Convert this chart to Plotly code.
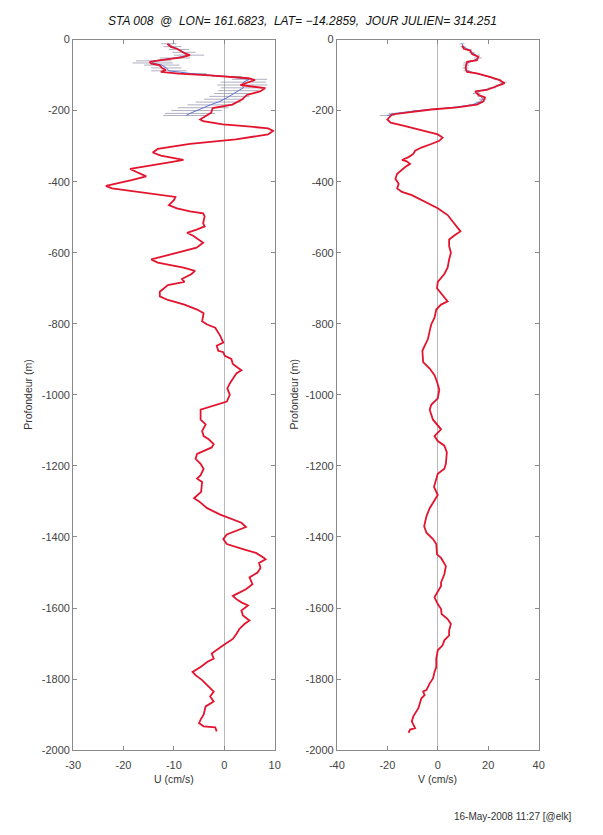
import plotly.graph_objects as go

W, H = 603, 835

# ---- U profile (cm/s) vs depth (m) ----
u_depth = [-12, -21, -26, -40, -44, -50, -58, -63, -68, -72, -81, -86, -91, -96, -101, -109, -114, -122, -128,
           -137, -146, -156, -169, -183, -193, -206, -225, -230, -239, -243, -250, -257, -267, -281, -294,
           -308, -318, -327, -336, -339, -345, -355, -364, -373, -385, -396, -406, -412, -419, -429, -438,
           -443, -452, -466, -475, -484, -489, -498, -517, -526, -535, -544, -553, -572, -586, -600, -619,
           -628, -642, -651, -660, -674, -682, -691, -710, -723, -733, -746, -760, -770, -793, -802, -811,
           -834, -853, -862, -876, -880, -890, -899, -913, -924, -931, -940, -954, -968, -982, -1000, -1019,
           -1033, -1042, -1070, -1083, -1102, -1116, -1125, -1139, -1148, -1157, -1166, -1180, -1194, -1208,
           -1226, -1236, -1245, -1273, -1291, -1300, -1319, -1337, -1351, -1360, -1372, -1383, -1393, -1406,
           -1420, -1434, -1445, -1459, -1463, -1473, -1487, -1500, -1514, -1533, -1547, -1561, -1566, -1575,
           -1584, -1593, -1607, -1621, -1635, -1645, -1659, -1673, -1687, -1705, -1719, -1728, -1742, -1752,
           -1766, -1780, -1789, -1803, -1817, -1835, -1849, -1863, -1877, -1900, -1914, -1924, -1933, -1936,
           -1947]
u_vals = [-11.3, -10.6, -9.4, -7.7, -6.8, -8.5, -12.5, -14.8, -14.5, -12.9, -12.3, -11.6, -12.6, -9.0, -3.0,
          4.8, 6.1, 4.6, 3.2, 8.1, 7.1, 4.5, 3.5, 1.6, -2.3, -2.6, -4.8, -4.2, -0.3, 3.5, 8.7, 9.7, 8.7, 2.3,
          -6.8, -13.2, -14.2, -12.6, -9.4, -8.1, -10.6, -15.2, -18.7, -17.4, -15.5, -18.4, -21.6, -23.5, -22.3,
          -17.1, -11.9, -9.7, -10.0, -11.0, -9.4, -6.8, -4.2, -3.9, -4.2, -3.9, -5.5, -7.4, -6.1, -4.2, -5.5,
          -9.4, -14.5, -13.2, -8.1, -5.8, -6.5, -8.4, -7.9, -11.2, -12.8, -12.8, -11.2, -7.9, -5.4, -4.1, -4.4,
          -3.4, -1.8, -0.8, -0.2, -1.5, -1.2, -0.2, 0.1, 1.4, 1.7, 2.7, 3.4, 2.4, 1.7, 1.1, 0.6, 1.1, 0.5,
          -2.8, -4.7, -4.7, -3.7, -4.4, -4.1, -3.1, -2.1, -2.5, -4.1, -5.4, -5.7, -4.7, -4.1, -4.7, -5.4, -4.4,
          -4.6, -6.0, -5.0, -3.4, -0.8, 1.7, 3.4, 4.3, 2.4, 0.5, -0.2, 0.5, 3.7, 6.3, 7.9, 8.2, 6.9, 7.2, 6.6,
          5.0, 5.6, 4.3, 2.4, 1.7, 2.4, 3.4, 4.7, 3.4, 3.7, 5.0, 4.0, 3.0, 2.4, 1.7, -0.2, -1.5, -2.5, -2.1,
          -3.4, -4.7, -6.3, -5.7, -4.4, -3.4, -2.1, -2.8, -2.1, -3.7, -4.1, -4.7, -5.0, -4.1, -1.8, -1.5]

# ---- V profile (cm/s) vs depth (m) ----
v_depth = [-17, -26, -31, -40, -49, -58, -63, -81, -91, -95, -105, -114, -123, -132, -142, -146, -156, -163,
           -174, -183, -191, -197, -204, -211, -225, -234, -244, -257, -267, -276, -285, -294, -304, -313,
           -322, -331, -339, -343, -350, -359, -369, -378, -392, -406, -419, -429, -438, -456, -475, -494,
           -517, -531, -540, -549, -563, -581, -600, -619, -642, -660, -682, -700, -714, -737, -746, -760,
           -783, -802, -820, -843, -862, -876, -908, -926, -945, -963, -986, -1010, -1028, -1042, -1070,
           -1097, -1116, -1130, -1143, -1162, -1194, -1208, -1222, -1236, -1259, -1282, -1305, -1319, -1342,
           -1370, -1388, -1406, -1420, -1449, -1459, -1482, -1505, -1528, -1538, -1556, -1570, -1589, -1603,
           -1617, -1631, -1645, -1663, -1677, -1691, -1705, -1719, -1742, -1766, -1780, -1798, -1812, -1831,
           -1835, -1845, -1854, -1882, -1905, -1919, -1938, -1942, -1951]
v_vals = [9.7, 10.3, 12.9, 13.5, 16.1, 15.5, 11.6, 11.0, 11.6, 15.5, 20.6, 24.5, 26.5, 23.2, 19.4, 14.8,
          16.1, 18.7, 18.1, 15.5, 7.7, -2.6, -11.6, -18.1, -20.0, -18.7, -12.9, -5.2, 0.0, 1.9, 0.6, -2.6,
          -6.5, -9.0, -9.7, -11.6, -14.2, -12.3, -11.0, -12.9, -14.8, -16.1, -16.8, -15.5, -16.1, -14.2,
          -10.3, -5.2, 0.0, 3.9, 6.5, 7.7, 9.0, 7.1, 4.5, 4.5, 5.2, 4.5, 3.9, 2.6, 0.0, -0.3, 1.3, 3.9, 1.3,
          -0.6, -1.3, -2.6, -3.2, -3.9, -5.2, -6.1, -5.8, -3.2, -1.3, -0.3, 0.6, 0.0, -2.6, -3.2, -1.9, 1.3,
          -1.3, 0.0, 2.6, 3.6, 3.2, 2.6, 0.0, -0.6, -1.5, 0.0, -1.9, -3.2, -4.5, -5.4, -4.5, -1.9, -0.6,
          -0.3, 1.3, 3.2, 2.6, 1.3, 1.3, 0.0, -1.3, 0.0, 1.3, 1.5, 3.9, 5.2, 4.5, 4.5, 2.6, 1.9, 0.0, -0.6,
          -0.6, -1.3, -1.9, -3.2, -4.5, -5.8, -5.2, -6.5, -7.7, -9.7, -10.3, -9.0, -11.0, -11.6]

# ---- upper-layer second estimate with uncertainty ----
top_depth = [-12, -20, -28, -36, -44, -52, -60, -66, -72, -80, -88, -96, -104, -112, -120, -128, -136,
             -144, -152, -160, -168, -176, -184, -192, -200, -208, -214]
u_top = [-11.0, -10.3, -9.0, -8.0, -7.0, -9.8, -14.0, -14.2, -12.4, -11.5, -11.0, -6.5, 0.5, 5.0, 3.8,
         3.6, 3.8, 2.8, 2.0, 1.0, 0.0, -1.2, -2.8, -4.2, -5.5, -6.8, -7.6]
u_err = [1.5, 1.8, 2.0, 2.3, 3.0, 3.0, 3.5, 4.0, 3.5, 3.0, 3.5, 3.0, 3.0, 3.5, 4.5, 5.0, 4.5, 4.0, 4.0,
         4.0, 4.0, 4.5, 4.5, 5.0, 5.0, 5.0, 4.5]
v_top = [9.6, 10.0, 12.2, 13.4, 15.2, 16.0, 14.0, 11.4, 11.2, 11.0, 11.5, 15.6, 20.0, 23.6, 25.8, 24.4,
         21.6, 17.0, 15.4, 17.2, 17.8, 16.5, 13.5, 5.0, -8.0, -17.0, -20.0]
v_err = [1.0, 1.0, 1.2, 1.2, 1.5, 1.5, 1.5, 1.2, 1.2, 1.2, 1.2, 1.2, 1.2, 1.5, 1.5, 1.5, 1.5, 1.5, 1.5,
         1.5, 1.5, 1.5, 1.5, 1.8, 2.0, 2.5, 3.0]

u_ticks = [-30, -20, -10, 0, 10]
v_ticks = [-40, -20, 0, 20, 40]
depth_ticks = list(range(0, -2001, -200))

TITLE = "STA 008  @  LON= 161.6823,  LAT= \u221214.2859,  JOUR JULIEN= 314.251"
FOOTER = "16-May-2008 11:27 [@elk]"

RED = "#e3142e"
BLUE = "#5b6fd0"
ERR = "rgba(120,120,150,0.6)"
AXC = "#8a8a8a"
FONT = "Liberation Sans, Arial, sans-serif"


def px_x(p):
    return p / W


def px_y(p):
    return 1 - p / H


fig = go.Figure()

# U panel
fig.add_trace(go.Scatter(x=u_top, y=top_depth, mode="lines", line=dict(color=BLUE, width=1),
                         error_x=dict(type="data", array=u_err, color=ERR, thickness=1, width=0),
                         xaxis="x", yaxis="y", showlegend=False))
fig.add_trace(go.Scatter(x=u_vals, y=u_depth, mode="lines", line=dict(color=RED, width=1.8),
                         xaxis="x", yaxis="y", showlegend=False))
# V panel
fig.add_trace(go.Scatter(x=v_top, y=top_depth, mode="lines", line=dict(color=BLUE, width=1),
                         error_x=dict(type="data", array=v_err, color=ERR, thickness=1, width=0),
                         xaxis="x2", yaxis="y2", showlegend=False))
fig.add_trace(go.Scatter(x=v_vals, y=v_depth, mode="lines", line=dict(color=RED, width=1.8),
                         xaxis="x2", yaxis="y2", showlegend=False))

y_dom = [px_y(755), px_y(34)]
common_axis = dict(showline=True, linecolor=AXC, linewidth=1, mirror="all", ticks="inside",
                   ticklen=4, tickcolor=AXC, showgrid=False,
                   tickfont=dict(family=FONT, size=11, color="#444"))


def tick_text(vals):
    return [str(v) for v in vals]


fig.update_layout(
    width=W, height=H, margin=dict(l=0, r=0, t=0, b=0),
    paper_bgcolor="white", plot_bgcolor="white",
    xaxis=dict(domain=[px_x(66.7), px_x(273)], range=[-30, 10], tickvals=u_ticks,
               ticktext=tick_text(u_ticks), zeroline=True, zerolinecolor="#b8b8b8",
               zerolinewidth=1, anchor="y", ticklabelstandoff=5, **common_axis),
    yaxis=dict(domain=y_dom, range=[-2000, 0], tickvals=depth_ticks,
               ticktext=tick_text(depth_ticks), zeroline=False, anchor="x", **common_axis),
    xaxis2=dict(domain=[px_x(336.7), px_x(543.3)], range=[-40, 40], tickvals=v_ticks,
                ticktext=tick_text(v_ticks), zeroline=True, zerolinecolor="#b8b8b8",
                zerolinewidth=1, anchor="y2", ticklabelstandoff=5, **common_axis),
    yaxis2=dict(domain=y_dom, range=[-2000, 0], tickvals=depth_ticks,
                ticktext=tick_text(depth_ticks), zeroline=False, anchor="x2", **common_axis),
)

annos = [
    dict(text="<i>" + TITLE + "</i>", x=px_x(301), y=px_y(15), font=dict(size=12, color="#111")),
    dict(text="U (cm/s)", x=px_x(170), y=px_y(784), font=dict(size=10.5, color="#333")),
    dict(text="V (cm/s)", x=px_x(440), y=px_y(784), font=dict(size=10.5, color="#333")),
    dict(text="Profondeur (m)", x=px_x(21), y=px_y(394), textangle=-90, font=dict(size=10.5, color="#333")),
    dict(text="Profondeur (m)", x=px_x(293), y=px_y(394), textangle=-90, font=dict(size=10.5, color="#333")),
    dict(text=FOOTER, x=px_x(455), y=px_y(822), xanchor="left", font=dict(size=10, color="#333")),
]
for a in annos:
    a.setdefault("xanchor", "center")
    a["font"]["family"] = FONT
    fig.add_annotation(xref="paper", yref="paper", yanchor="middle", showarrow=False, **a)

fig.write_html("out.html")
